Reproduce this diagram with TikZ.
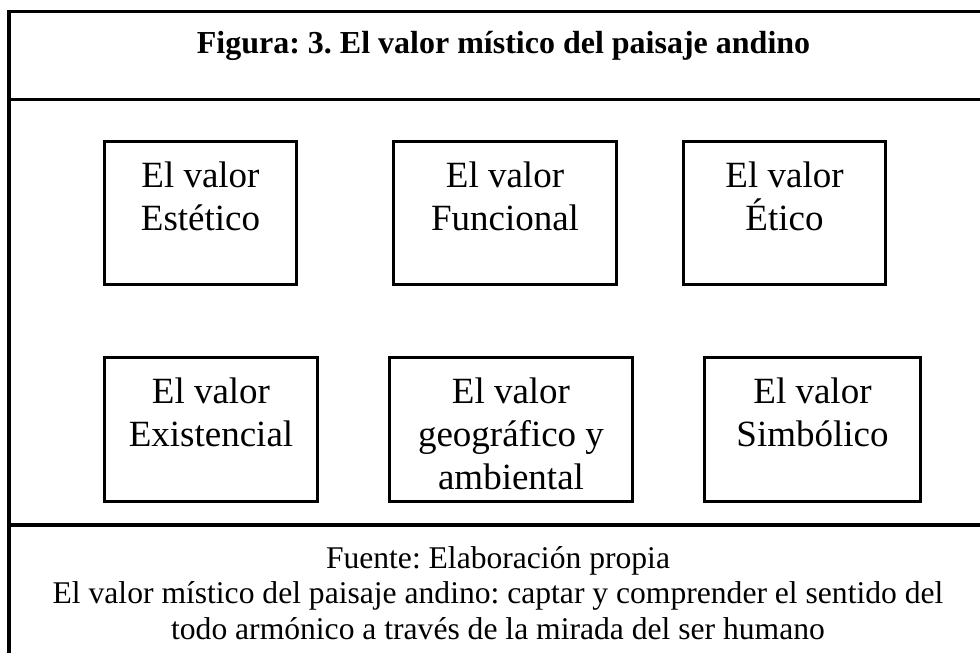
\documentclass[tikz,border=0pt]{standalone}
\usepackage{fontspec}
\setmainfont{Liberation Serif}
\frenchspacing
\begin{document}
\begin{tikzpicture}[x=1pt, y=-1pt, line join=miter,
	marco/.style={line width=3.5pt},
	caja/.style={draw, line width=3pt, inner sep=0pt},
	texto/.style={anchor=north, align=center, inner sep=0pt, font=\fontsize{37}{43}\selectfont}]
	\useasboundingbox (0,0) rectangle (980,653);
	% marco
	\draw[marco] (980,11.5) -- (9,11.5) -- (9,653);
	\draw[marco] (9,99.5) -- (980,99.5);
	\draw[marco] (9,525) -- (980,525);
	\node[anchor=base, inner sep=0pt, font=\fontsize{32}{36}\selectfont\bfseries] (titulo) at (503.5,53) {Figura: 3. El valor místico del paisaje andino};
	% cajas: nombre/x/y/ancho/alto/texto
	\foreach \nombre/\cx/\cy/\w/\h/\txt in {
		estetico/200.5/213/192/143/{El valor\\Estético},
		funcional/505/213/223/143/{El valor\\Funcional},
		etico/784.5/213/202/143/{El valor\\Ético},
		existencial/211/429.5/213/144/{El valor\\Existencial},
		geografico/511/429.5/243/144/{El valor\\geográfico y\\ambiental},
		simbolico/812.5/429.5/216/144/{El valor\\Simbólico}}
	{
		\node[caja, minimum width=\w pt, minimum height=\h pt] (\nombre) at (\cx,\cy) {};
		\node[texto, yshift=-22pt] (\nombre-txt) at (\nombre.north) {\txt};
	}
	% la ultima linea queda en la base
	\node[anchor=base, align=center, inner sep=0pt, font=\fontsize{31.6}{35.5}\selectfont] (fuente) at (498,639) {Fuente: Elaboración propia\\El valor místico del paisaje andino: captar y comprender el sentido del\\todo armónico a través de la mirada del ser humano};
\end{tikzpicture}
\end{document}
